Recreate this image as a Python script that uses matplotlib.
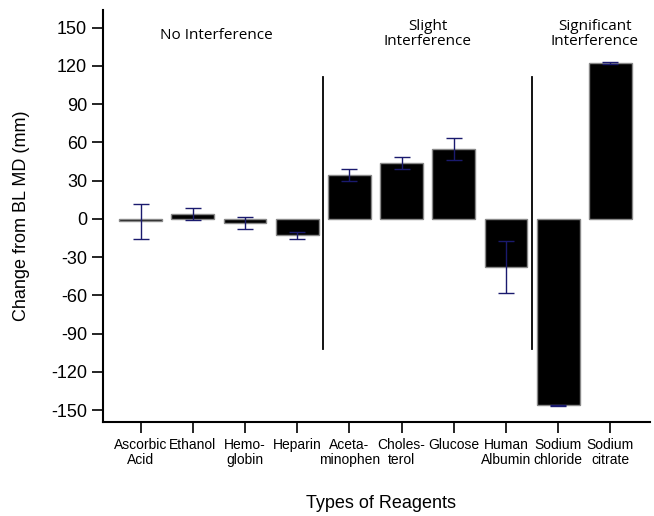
import numpy as np
import matplotlib
matplotlib.use("Agg")
import matplotlib.pyplot as plt

# ── data ──────────────────────────────────────────────────────────────────────
reagents = ["Ascorbic\nAcid", "Ethanol", "Hemo-\nglobin", "Heparin",
            "Aceta-\nminophen", "Choles-\nterol", "Glucose",
            "Human\nAlbumin", "Sodium\nchloride", "Sodium\ncitrate"]
change   = [-1.7, 3.8, -3.3, -13.0, 34.5, 43.8, 54.8, -37.5, -146.3, 122.3]
err      = [13.7, 5.0, 4.5, 2.5, 5.0, 4.8, 9.0, 20.3, 0.5, 0.5]

group_labels = ["No Interference", "Slight\nInterference", "Significant\nInterference"]
group_x      = [1.45, 5.5, 8.7]
group_y      = [144, 145, 145]
divider_x    = [3.5, 7.5]
yticks       = [-150, -120, -90, -60, -30, 0, 30, 60, 90, 120, 150]

plt.rcParams["font.family"] = ["Liberation Sans", "DejaVu Sans"]
plt.rcParams["axes.unicode_minus"] = False

fig = plt.figure(figsize=(6.54, 5.16), dpi=100)
ax = fig.add_axes([0.1575, 0.183, 0.8365, 0.798])

x = np.arange(len(reagents))
ax.bar(x, change, width=0.82, color="black", edgecolor="#888888", linewidth=1)
ax.errorbar(x, change, yerr=err, fmt="none", ecolor="#1a1a6e",
            elinewidth=1, capsize=6, capthick=1)

for dx in divider_x:
    ax.plot([dx, dx], [-102, 111], color="black", linewidth=1.3)

for gx, gy, gl in zip(group_x, group_y, group_labels):
    ax.text(gx, gy, gl, ha="center", va="center",
            fontsize=11, family=["Open Sans", "DejaVu Sans"], linespacing=1.05)

ax.set_xlim(-0.72, 9.76)
ax.set_ylim(-159, 164)
ax.set_xticks(x)
ax.set_xticklabels(reagents, fontsize=10, linespacing=1.15)
ax.set_yticks(yticks)
ax.tick_params(axis="y", labelsize=13, length=8, width=1.2)
ax.tick_params(axis="x", length=8, width=1.2)

for side in ("top", "right"):
    ax.spines[side].set_visible(False)
for side in ("left", "bottom"):
    ax.spines[side].set_linewidth(1.5)

ax.set_ylabel("Change from BL MD (mm)", fontsize=13)
ax.yaxis.set_label_coords(-0.134, 0.5)
fig.text(0.582, 1 - 504 / 516, "Types of Reagents", fontsize=13,
         ha="center", va="center")

fig.savefig("out.png", dpi=100)
